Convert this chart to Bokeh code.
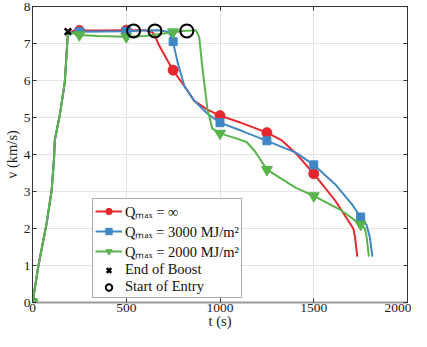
from bokeh.plotting import figure
from bokeh.models import Range1d, LinearAxis, FixedTicker, Legend, LegendItem, CustomLabelingPolicy
from bokeh.embed import file_html
from bokeh.resources import INLINE

# ---- data ----
rise_t = [0, 31, 50, 75, 102, 115, 119, 145, 172, 189]
rise_v = [0, 0.98, 1.48, 2.13, 3.02, 3.9, 4.39, 5.05, 5.94, 7.30]

red_t = [220, 250, 350, 500, 600, 640, 655, 670, 700, 749, 800, 863, 930, 1000, 1100, 1250, 1330, 1405, 1500, 1615, 1711, 1720, 1732]
red_v = [7.34, 7.35, 7.35, 7.36, 7.36, 7.30, 7.20, 7.00, 6.72, 6.28, 5.92, 5.45, 5.22, 5.05, 4.88, 4.59, 4.38, 4.03, 3.48, 2.75, 2.00, 1.77, 1.24]

blue_t = [220, 250, 500, 600, 670, 723, 740, 749, 775, 810, 863, 933, 1000, 1125, 1250, 1405, 1500, 1615, 1703, 1750, 1782, 1799, 1813]
blue_v = [7.30, 7.32, 7.33, 7.35, 7.36, 7.32, 7.20, 7.05, 6.47, 5.85, 5.45, 5.10, 4.86, 4.62, 4.37, 4.05, 3.72, 3.19, 2.66, 2.31, 2.09, 1.77, 1.24]

green_t = [220, 250, 350, 500, 600, 700, 750, 800, 871, 889, 907, 933, 959, 1000, 1091, 1143, 1187, 1250, 1405, 1500, 1650, 1750, 1773, 1782, 1794]
green_v = [7.27, 7.23, 7.20, 7.18, 7.20, 7.27, 7.30, 7.34, 7.36, 7.18, 6.30, 5.23, 4.70, 4.57, 4.43, 4.33, 4.08, 3.59, 3.10, 2.88, 2.48, 2.11, 2.00, 1.77, 1.24]

red_mt = [0, 250, 500, 750, 1000, 1250, 1500]
red_mv = [0, 7.35, 7.36, 6.28, 5.05, 4.59, 3.48]
blue_mt = [0, 250, 500, 750, 1000, 1250, 1500, 1750]
blue_mv = [0, 7.32, 7.33, 7.05, 4.86, 4.37, 3.72, 2.31]
green_mt = [0, 250, 500, 750, 1000, 1250, 1500, 1750]
green_mv = [0, 7.23, 7.18, 7.31, 4.57, 3.59, 2.88, 2.11]

boost_t = [189]
boost_v = [7.32]
entry_t = [539, 653, 823]
entry_v = [7.34, 7.34, 7.34]

x_ticks = [0, 500, 1000, 1500, 2000]
y_ticks = [0, 1, 2, 3, 4, 5, 6, 7, 8]

labels = ["Q\u2098\u2090\u2093 = \u221e", "Q\u2098\u2090\u2093 = 3000 MJ/m\u00b2",
          "Q\u2098\u2090\u2093 = 2000 MJ/m\u00b2", "End of Boost", "Start of Entry"]

RED, BLUE, GREEN = "#E4282E", "#3F88C5", "#58B44B"
FONT = "Liberation Serif"

p = figure(width=411, height=331, output_backend="svg", toolbar_location=None,
           x_range=Range1d(0, 2000), y_range=Range1d(0, 8),
           min_border_left=22, min_border_right=0, min_border_top=6, min_border_bottom=26)
p.outline_line_color = "#333333"
p.background_fill_color = "white"

for ax, tk in ((p.xaxis[0], x_ticks), (p.yaxis[0], y_ticks)):
    ax.ticker = FixedTicker(ticks=tk)
    ax.major_tick_in = 4
    ax.major_tick_out = 0
    ax.minor_tick_line_color = None
    ax.major_label_text_font = FONT
    ax.major_label_text_font_size = "13.5px"
    ax.major_label_text_color = "#222222"
    ax.axis_label_text_font = FONT
    ax.axis_label_text_font_size = "14.5px"
    ax.axis_label_text_font_style = "normal"
    ax.axis_label_text_color = "#222222"
    ax.major_tick_line_color = "#333333"
    ax.axis_line_color = "#333333"
p.xaxis[0].axis_label = "t (s)"
p.yaxis[0].axis_label = "v (km/s)"
p.xaxis[0].major_label_standoff = 1
p.xaxis[0].axis_label_standoff = -2
p.yaxis[0].major_label_standoff = 2
p.yaxis[0].axis_label_standoff = 1
p.xaxis[0].axis_line_color = "#9a9a9a"
p.xaxis[0].axis_line_width = 2

no_labels = CustomLabelingPolicy(code="""
for (const i of indices) { indices.unset(i) }
return indices
""")
for loc, tk in (("right", y_ticks), ("above", x_ticks)):
    ax = LinearAxis(ticker=FixedTicker(ticks=tk), major_label_policy=no_labels)
    ax.major_tick_in = 4
    ax.major_tick_out = 0
    ax.minor_tick_line_color = None
    ax.major_label_standoff = 0
    ax.major_label_text_font_size = "1px"
    ax.axis_line_color = "#333333"
    ax.major_tick_line_color = "#333333"
    p.add_layout(ax, loc)

p.xgrid.ticker = FixedTicker(ticks=x_ticks)
p.ygrid.ticker = FixedTicker(ticks=y_ticks)
p.grid.grid_line_color = "#e3e3e3"
p.grid.grid_line_width = 1

items = []
series = [
    (red_t, red_v, red_mt, red_mv, RED, "circle", 10),
    (blue_t, blue_v, blue_mt, blue_mv, BLUE, "square", 8),
    (green_t, green_v, green_mt, green_mv, GREEN, "inverted_triangle", 11),
]
for i, (t, v, mt, mv, c, mk, sz) in enumerate(series):
    ln = p.line(rise_t + t, rise_v + v, line_color=c, line_width=2)
    sc = p.scatter(mt, mv, marker=mk, size=sz, fill_color=c, line_color=c)
    items.append(LegendItem(label=labels[i], renderers=[ln, sc]))

bx = p.scatter(boost_t, boost_v, marker="x", size=9, line_color="black", line_width=2.5)
en = p.scatter(entry_t, entry_v, marker="circle", size=13, fill_color=None,
               line_color="black", line_width=2)
items.append(LegendItem(label=labels[3], renderers=[bx]))
items.append(LegendItem(label=labels[4], renderers=[en]))

legend = Legend(items=items, location=(60, 4))
legend.label_text_font = FONT
legend.label_text_font_size = "14.5px"
legend.label_text_color = "#111111"
legend.label_height = 16
legend.glyph_height = 16
legend.glyph_width = 27
legend.spacing = 0
legend.padding = 2
legend.margin = 0
legend.label_standoff = 3
legend.border_line_color = "#555555"
legend.border_line_width = 1
legend.background_fill_alpha = 1
p.add_layout(legend, "center")

open("out.html", "w").write(file_html(p, INLINE))
